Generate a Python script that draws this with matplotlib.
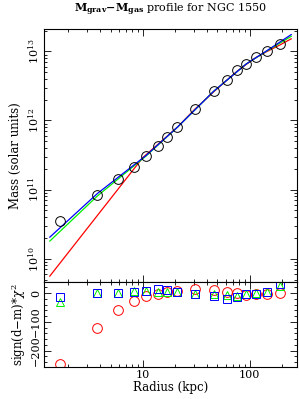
import numpy as np
import matplotlib
matplotlib.use("Agg")
import matplotlib.pyplot as plt
from matplotlib.ticker import LogLocator, NullFormatter, MultipleLocator

# radius of each annulus (kpc) and the mass measured there
radius = [1.69, 3.77, 5.88, 8.24, 10.7, 13.9, 17.0, 21.1, 30.6, 46.1,
          61.4, 76.8, 93.2, 113.7, 146, 194]
mass = [3.5e10, 8.4e10, 1.41e11, 2.12e11, 3.06e11, 4.27e11, 5.8e11, 8.0e11,
        1.46e12, 2.63e12, 3.9e12, 5.3e12, 6.6e12, 8.3e12, 1.02e13, 1.28e13]

# model curves
blue_r = [1.35, 3.77, 10.7, 21.1, 46.1, 93.2, 146, 194, 245]
blue_m = [2.05e10, 8.8e10, 3.1e11, 8.0e11, 2.65e12, 6.6e12, 1.03e13, 1.38e13, 1.75e13]
green_r = [1.35, 3.77, 10.7, 21.1, 46.1, 93.2, 146, 194, 245]
green_m = [1.8e10, 8.1e10, 3.05e11, 8.0e11, 2.65e12, 6.6e12, 1.02e13, 1.33e13, 1.65e13]
red_r = [1.35, 10.0, 21.1, 30.6, 46.1, 61.4, 76.8, 93.2, 113.7, 146, 194, 245]
red_m = [5.6e9, 2.9e11, 8.0e11, 1.45e12, 2.6e12, 3.85e12, 5.2e12, 6.5e12,
         8.1e12, 1.0e13, 1.25e13, 1.52e13]

# residuals for each model
chi_red = [-247, -120, -60, -27, -9, -3, 3, 8, 14, 11, 3, 0, -5, -4, -4, -1]
chi_green = [-30, 0, 2, 6, 6, 5, 5, 5, -2, -2, -5, -8, -4, 0, 3, 26]
chi_blue = [-12, 0, 2, 4, 7, 13, 11, 3, -2, -8, -20, -12, -4, -4, 5, 32]

plt.rcParams['font.family'] = ['DejaVu Serif']
plt.rcParams['mathtext.fontset'] = 'dejavuserif'
plt.rcParams['font.size'] = 8

fig = plt.figure(figsize=(2.99, 3.99), dpi=100)
ax1 = fig.add_axes([0.147, 0.2932, 0.846, 0.6338])
ax2 = fig.add_axes([0.147, 0.0802, 0.846, 0.2130], sharex=ax1)

ax1.plot(red_r, red_m, color='#ff0000', lw=0.9)
ax1.plot(green_r, green_m, color='#00ee00', lw=0.9)
ax1.plot(blue_r, blue_m, color='#0000ff', lw=0.9)
ax1.plot(radius, mass, 'o', mfc='none', mec='black', ms=7, mew=0.7)
ax1.set_xscale('log')
ax1.set_yscale('log')
ax1.set_xlim(1.19, 277)
ax1.set_ylim(4.6e9, 2.1e13)
ax1.set_ylabel('Mass (solar units)', fontsize=8.5, labelpad=3)
ax1.set_title(r'$\mathbf{M_{grav}}$$\mathbf{-}$$\mathbf{M_{gas}}$ profile for NGC 1550',
              fontsize=8, pad=12)
plt.setp(ax1.get_xticklabels(), visible=False)
for lab in ax1.get_yticklabels():
    lab.set_rotation(90)
    lab.set_va('center')

ax2.plot(radius, chi_red, 'o', mfc='none', mec='#ff0000', ms=7, mew=0.7)
ax2.plot(radius, chi_green, '^', mfc='none', mec='#00ee00', ms=6, mew=0.7)
ax2.plot(radius, chi_blue, 's', mfc='none', mec='#0000ff', ms=6, mew=0.7)
ax2.set_ylim(-257, 39)
ax2.yaxis.set_major_locator(MultipleLocator(100))
ax2.yaxis.set_minor_locator(MultipleLocator(20))
ax2.set_xlabel('Radius (kpc)', fontsize=8.5, labelpad=1)
ax2.set_ylabel(r'sign(d$-$m)*$\chi^2$', fontsize=8.5, labelpad=2)
ax2.set_xticks([10, 100])
ax2.set_xticklabels(['10', '100'])
for lab in ax2.get_yticklabels():
    lab.set_rotation(90)
    lab.set_va('center')

for ax in (ax1, ax2):
    ax.tick_params(which='both', direction='in', top=True, right=True, width=0.6)
    ax.tick_params(which='major', length=5, pad=2)
    ax.tick_params(which='minor', length=2.5)
    for s in ax.spines.values():
        s.set_linewidth(0.8)
ax1.xaxis.set_minor_locator(LogLocator(subs=np.arange(2, 10)))
ax1.xaxis.set_minor_formatter(NullFormatter())

fig.savefig('out.png', dpi=100)
